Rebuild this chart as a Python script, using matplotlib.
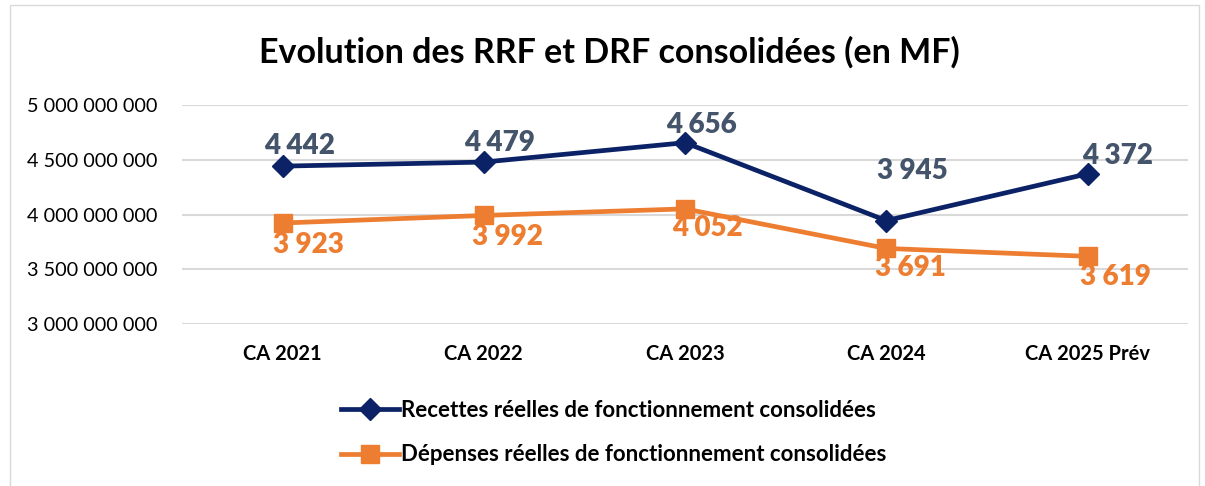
import matplotlib.pyplot as plt
from matplotlib.patches import Rectangle

plt.rcParams['font.family'] = ['Lato', 'DejaVu Sans']

categories = ['CA 2021', 'CA 2022', 'CA 2023', 'CA 2024', 'CA 2025 Prév']
recettes = [4442, 4479, 4656, 3945, 4372]   # en MF
depenses = [3923, 3992, 4052, 3691, 3619]
recettes_labels = ['4 442', '4 479', '4 656', '3 945', '4 372']
depenses_labels = ['3 923', '3 992', '4 052', '3 691', '3 619']
yticks = [3000000000, 3500000000, 4000000000, 4500000000, 5000000000]

# label offsets from the point, in pixels (x right, y up)
rec_offsets = [(17, 20), (16, 19), (16, 18), (26, 50), (30, 18)]
dep_offsets = [(26, -22), (24, -22), (22, -19), (24, -20), (28, -21)]

blue = '#0b2366'
orange = '#ed7d31'
blue_txt = '#44546a'

fig = plt.figure(figsize=(12.05, 4.86), dpi=100)
ax = fig.add_axes([0.151, 0.333, 0.835, 0.451])

x = list(range(len(categories)))
rec_units = [v * 1000000 for v in recettes]
dep_units = [v * 1000000 for v in depenses]

ax.plot(x, rec_units, color=blue, lw=3.4, marker='D', markersize=11,
        label='Recettes réelles de fonctionnement consolidées', zorder=3)
ax.plot(x, dep_units, color=orange, lw=3.4, marker='s', markersize=13,
        label='Dépenses réelles de fonctionnement consolidées', zorder=3)

px = 0.72  # points per pixel at 100 dpi
for xi, v, t, (dx, dy) in zip(x, rec_units, recettes_labels, rec_offsets):
    ax.annotate(t, (xi, v), xytext=(dx * px, dy * px), textcoords='offset points',
                ha='center', va='center', fontsize=20, fontweight='heavy',
                color=blue_txt, zorder=5)
for xi, v, t, (dx, dy) in zip(x, dep_units, depenses_labels, dep_offsets):
    ax.annotate(t, (xi, v), xytext=(dx * px, dy * px), textcoords='offset points',
                ha='center', va='center', fontsize=20, fontweight='heavy',
                color=orange, zorder=5)

ax.set_xlim(-0.5, 4.5)
ax.set_ylim(3000000000, 5000000000)
ax.set_yticks(yticks)
ax.set_yticklabels([f'{v:,}'.replace(',', ' ') for v in yticks], fontsize=14.3)
ax.set_xticks(x)
ax.set_xticklabels(categories, fontsize=14.5, fontweight='bold')
ax.grid(axis='y', color='#d9d9d9', lw=1.5)
ax.set_axisbelow(True)
for s in ax.spines.values():
    s.set_visible(False)
ax.tick_params(length=0, pad=18)
ax.tick_params(axis='x', pad=14)

fig.text(0.506, 0.893, 'Evolution des RRF et DRF consolidées (en MF)',
         ha='center', va='center', fontsize=24.5, fontweight='bold')

fig.legend(loc='upper left', bbox_to_anchor=(0.276, 0.195), frameon=False,
           prop={'size': 16, 'weight': 'bold'}, handlelength=2.6,
           handletextpad=0.1, labelspacing=1.05, borderaxespad=0)

fig.add_artist(Rectangle((0.008, -0.01), 0.987, 1.0, transform=fig.transFigure,
                         fill=False, edgecolor='#d9d9d9', lw=1))

fig.savefig('out.png', dpi=100)
